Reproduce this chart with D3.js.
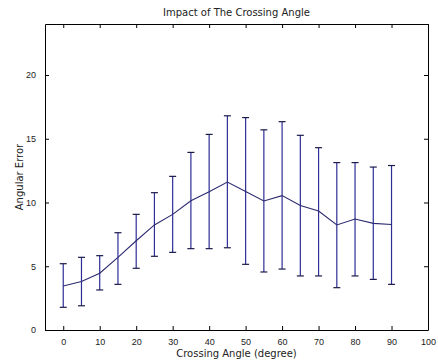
<!DOCTYPE html>
<html>
<head>
<meta charset="utf-8">
<script src="https://cdn.jsdelivr.net/npm/d3@7"></script>
<style>
  body { margin: 0; background: #fff; }
  svg text { font-family: "DejaVu Sans", sans-serif; fill: #222; }
</style>
</head>
<body>
<figure id="chart" style="margin:0"></figure>
<script>
// crossing angle (degree)
const angles = [0, 5, 10, 15, 20, 25, 30, 35, 40, 45, 50, 55, 60, 65, 70, 75, 80, 85, 90];
// mean angular error
const meanErr = [3.45, 3.8, 4.45, 5.7, 7.0, 8.24, 9.07, 10.14, 10.85, 11.6, 10.87, 10.12, 10.54, 9.76, 9.33, 8.24, 8.7, 8.36, 8.27];
// upper and lower error bar ends
const upperErr = [5.2, 5.7, 5.83, 7.63, 9.07, 10.77, 12.05, 13.93, 15.34, 16.8, 16.66, 15.7, 16.34, 15.27, 14.3, 13.13, 13.13, 12.78, 12.9];
const lowerErr = [1.78, 1.9, 3.14, 3.58, 4.84, 5.78, 6.09, 6.38, 6.38, 6.45, 5.15, 4.55, 4.78, 4.24, 4.24, 3.32, 4.24, 3.97, 3.58];
const xTicks = [0, 10, 20, 30, 40, 50, 60, 70, 80, 90, 100];
const yTicks = [0, 5, 10, 15, 20];

const W = 438, H = 362;
const margin = { top: 24, right: 10, bottom: 32, left: 45 };
const width = W - margin.left - margin.right;
const height = H - margin.top - margin.bottom;
const blue = "#2e2e96";

const svg = d3.select("#chart").append("svg")
  .attr("width", W)
  .attr("height", H);

const g = svg.append("g")
  .attr("transform", `translate(${margin.left},${margin.top})`);

const x = d3.scaleLinear().domain([-5, 100]).range([0, width]);
const y = d3.scaleLinear().domain([0, 24]).range([height, 0]);

// axes (ticks pointing inwards, box style)
const axisStyle = sel => {
  sel.select(".domain").attr("stroke", "#000");
  sel.selectAll(".tick line").attr("stroke", "#000");
  sel.selectAll(".tick text").style("font-size", "9px").style("font-family", "'Liberation Sans', sans-serif").attr("fill", "#444");
};

g.append("g")
  .attr("transform", `translate(0,${height})`)
  .call(d3.axisBottom(x).tickValues(xTicks).tickSizeInner(-4).tickSizeOuter(0).tickPadding(9))
  .call(axisStyle);

g.append("g")
  .call(d3.axisLeft(y).tickValues(yTicks).tickSizeInner(-4).tickSizeOuter(0).tickPadding(9))
  .call(axisStyle);

g.append("g")
  .call(d3.axisTop(x).tickValues(xTicks).tickSizeInner(-4).tickSizeOuter(0).tickFormat(""))
  .call(axisStyle);

g.append("g")
  .attr("transform", `translate(${width},0)`)
  .call(d3.axisRight(y).tickValues(yTicks).tickSizeInner(-4).tickSizeOuter(0).tickFormat(""))
  .call(axisStyle);

g.selectAll(".domain").attr("stroke-width", 1);

// error bars
const data = angles.map((a, i) => ({ a, m: meanErr[i], hi: upperErr[i], lo: lowerErr[i] }));
const cap = 3.5;

const bars = g.append("g").selectAll("g.bar")
  .data(data)
  .enter().append("g")
  .attr("class", "bar");

bars.append("line")
  .attr("x1", d => x(d.a)).attr("x2", d => x(d.a))
  .attr("y1", d => y(d.lo)).attr("y2", d => y(d.hi))
  .attr("stroke", blue).attr("stroke-width", 1.2);

bars.append("line")
  .attr("x1", d => x(d.a) - cap).attr("x2", d => x(d.a) + cap)
  .attr("y1", d => y(d.hi)).attr("y2", d => y(d.hi))
  .attr("stroke", "#1a1a4a").attr("stroke-width", 1.2);

bars.append("line")
  .attr("x1", d => x(d.a) - cap).attr("x2", d => x(d.a) + cap)
  .attr("y1", d => y(d.lo)).attr("y2", d => y(d.lo))
  .attr("stroke", "#1a1a4a").attr("stroke-width", 1.2);

// mean line
g.append("path")
  .datum(data)
  .attr("fill", "none")
  .attr("stroke", "#2a2a70")
  .attr("stroke-width", 1.1)
  .attr("d", d3.line().x(d => x(d.a)).y(d => y(d.m)));

// title and labels
svg.append("text")
  .attr("x", margin.left + width / 2)
  .attr("y", 16)
  .attr("text-anchor", "middle")
  .style("font-size", "10px")
  .text("Impact of The Crossing Angle");

svg.append("text")
  .attr("x", margin.left + width / 2)
  .attr("y", 357)
  .attr("text-anchor", "middle")
  .style("font-size", "10px")
  .text("Crossing Angle (degree)");

svg.append("text")
  .attr("transform", `translate(23,${margin.top + height / 2}) rotate(-90)`)
  .attr("text-anchor", "middle")
  .style("font-size", "10px")
  .text("Angular Error");
</script>
</body>
</html>
